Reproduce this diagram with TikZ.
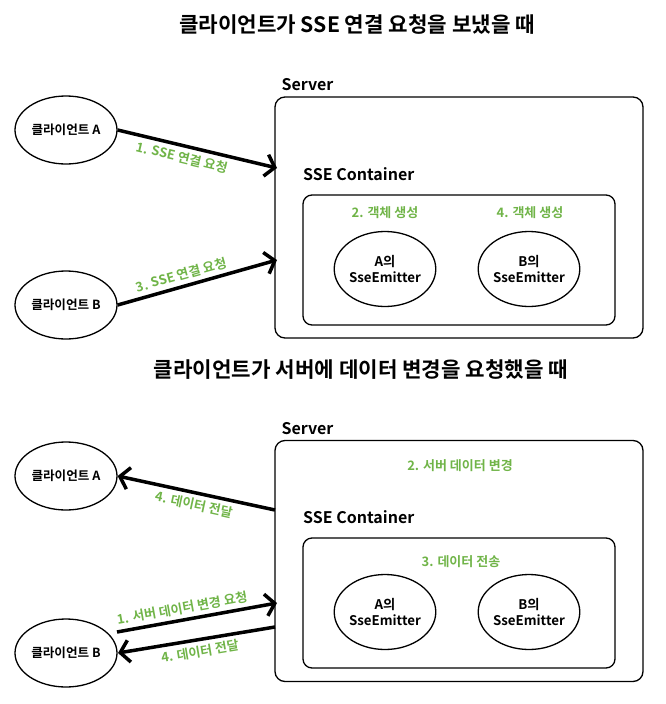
\documentclass[tikz,border=0pt]{standalone}
\usepackage{fontspec}
\setmainfont{Noto Sans CJK KR}[BoldFont={Noto Sans CJK KR Bold}]
\usepackage{tikz}
\usetikzlibrary{shapes.geometric, arrows.meta, positioning, calc}
\definecolor{stepgreen}{RGB}{112,180,72}
\tikzset{
    client/.style={
        ellipse,
        draw=black,
        line width=1.3pt,
        minimum width=102pt,
        minimum height=68pt,
        inner sep=0pt,
        font=\bfseries\fontsize{12.6}{14}\selectfont
    },
    emitter/.style={
        ellipse,
        draw=black,
        line width=1.3pt,
        minimum width=101pt,
        minimum height=75pt,
        inner sep=0pt,
        align=center,
        font=\bfseries\fontsize{13.3}{15.5}\selectfont
    },
    server/.style={
        rectangle,
        draw=black,
        line width=1.3pt,
        rounded corners=10pt,
        minimum width=368pt,
        minimum height=241pt
    },
    container/.style={
        rectangle,
        draw=black,
        line width=1.3pt,
        rounded corners=9pt,
        minimum width=312pt,
        minimum height=130pt
    },
    boxtitle/.style={
        inner sep=0pt,
        font=\bfseries\fontsize{16}{19}\selectfont
    },
    heading/.style={
        inner sep=0pt,
        font=\bfseries\fontsize{21.2}{25}\selectfont
    },
    steplabel/.style={
        text=stepgreen,
        inner sep=1pt,
        font=\bfseries\fontsize{13}{15}\selectfont
    },
    request/.style={
        draw=black,
        line width=3.5pt,
        -{Straight Barb[length=9pt, width=22pt]}
    }
}

\begin{document}
\begin{tikzpicture}[x=1pt, y=-1pt]
\useasboundingbox (0,0) rectangle (665,704);

% Case 1: SSE connection
\node[heading] (title_conn) at (357,25) {클라이언트가 SSE 연결 요청을 보냈을 때};

\node[client] (clientA_conn) at (66,130) {클라이언트 A};
\node[client] (clientB_conn) at (66,305) {클라이언트 B};

\node[server] (server_conn) at (459,217.5) {};
\node[boxtitle, anchor=south west] (srvlbl_conn) at ([xshift=7pt, yshift=5pt]server_conn.north west) {Server};
\node[container] (cont_conn) at (459,260) {};
\node[boxtitle, anchor=base west] (contlbl_conn) at (303,180) {SSE Container};

\node[emitter] (emA_conn) at (385,269) {A의\\SseEmitter};
\node[emitter] (emB_conn) at (529,269) {B의\\SseEmitter};
\node[steplabel] (make_A) at (385,213) {2. 객체 생성};
\node[steplabel] (make_B) at (530,213) {4. 객체 생성};

\coordinate (inA_conn) at (277,168);
\coordinate (inB_conn) at (277,260);
\draw[request] (clientA_conn.east) -- node[steplabel, sloped, below=3pt, pos=0.42] {1. SSE 연결 요청} (inA_conn);
\draw[request] (clientB_conn.east) -- node[steplabel, sloped, above=3pt, pos=0.42] {3. SSE 연결 요청} (inB_conn);

% Case 2: data change
\node[heading] (title_data) at (361,370) {클라이언트가 서버에 데이터 변경을 요청했을 때};

\node[client] (clientA_data) at (66,476) {클라이언트 A};
\node[client] (clientB_data) at (66,653) {클라이언트 B};

\node[server] (server_data) at (459,561) {};
\node[boxtitle, anchor=south west] (srvlbl_data) at ([xshift=7pt, yshift=5pt]server_data.north west) {Server};
\node[steplabel] (change_data) at (460,466) {2. 서버 데이터 변경};
\node[container] (cont_data) at (459,603) {};
\node[boxtitle, anchor=base west] (contlbl_data) at (303,523) {SSE Container};
\node[steplabel] (send_data) at (461,562) {3. 데이터 전송};

\node[emitter] (emA_data) at (385,612) {A의\\SseEmitter};
\node[emitter] (emB_data) at (529,612) {B의\\SseEmitter};

\coordinate (outA_data) at (275,510);
\coordinate (reqB_start) at (117,632);
\coordinate (reqB_end) at (277,603);
\coordinate (outB_data) at (275,627);
\coordinate (backB_end) at (118,653);
\draw[request] (outA_data) -- node[steplabel, sloped, below=3pt, pos=0.5] {4. 데이터 전달} (clientA_data.east);
\draw[request] (reqB_start) -- node[steplabel, sloped, above=3pt, pos=0.42] {1. 서버 데이터 변경 요청} (reqB_end);
\draw[request] (outB_data) -- node[steplabel, sloped, below=3pt, pos=0.49] {4. 데이터 전달} (backB_end);

\end{tikzpicture}
\end{document}
